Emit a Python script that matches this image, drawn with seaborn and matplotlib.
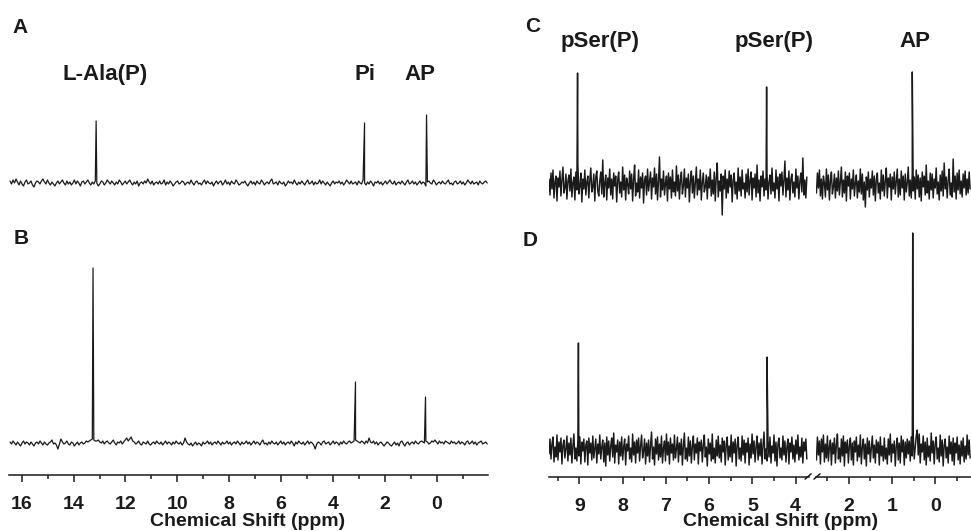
import numpy as np
import pandas as pd
import matplotlib
matplotlib.use("Agg")
import matplotlib.pyplot as plt
from matplotlib.ticker import MultipleLocator, FormatStrFormatter
import matplotlib.transforms as mtransforms
import seaborn as sns

# ---------------------------------------------------------------------------
# 31P spectra: baseline readings (intensity units, baseline = 0) and peaks
# ---------------------------------------------------------------------------
# Panel A, 16.45 -> -1.95 ppm
a_noise = [
    2, -1, 3, 0, 4, 1, -2, 2, -1, -3, 1, 3, -1, 0, 2, -2, -4, 0, 2, 1,
    -1, 2, 4, 1, -1, 3, 0, -2, 1, -1, -3, 0, 2, -1, 1, 3, 0, -2, 2, -1,
    1, -2, 0, 3, -1, 2, 0, -3, 1, 2, -1, 1, 3, 0, -2, 1, -1, 2, 0, -3,
    -1, 2, 1, -2, 0, 3, 1, -1, 2, 0, -2, 1, -1, 3, 1, -2, 0, 2, -1, 1,
    3, 0, -2, 1, -1, 2, -3, 0, 1, -1, 2, 0, 4, 1, -1, 2, -2, 0, 1, -1,
    2, -1, 0, 3, -2, 1, -1, 2, 0, -3, -1, 1, 2, -1, 0, 2, 1, -2, 0, 1,
    -1, 3, 0, -2, 1, 2, -1, 0, -2, 1, 3, -1, 2, 0, -1, 1, -3, 0, 2, -1,
    1, 2, -2, 0, 3, -1, 1, -2, 2, 0, -1, 3, 1, -2, -1, 1, 0, 2, -1, -3,
    0, 2, -1, 1, -2, 2, 0, -1, 3, 1, -2, 0, 1, -1, 2, 4, -1, 0, 1, -2,
    2, 0, -1, 1, -3, -1, 2, 0, 1, -1, 3, 0, -2, 1, -1, 2, 0, -2, 1, 3,
    -1, 0, 2, -2, 1, -1, 0, 3, -1, 2, 0, -2, 1, -1, -3, 0, 2, -1, 1, 0,
    2, -1, 1, -2, 0, 3, 1, -1, 2, -1, 0, 1, -2, 2, 0, -1, 3, 0, -2, 1,
    -1, 2, 0, -3, 1, 0, 2, -1, 1, -2, 0, 2, -1, 1, 3, 0, -1, 2, -2, 0,
    1, -1, 2, 0, -2, 1, 3, -1, 0, 2, -1, 1, -2, 0, 2, -1, 1, 0, -3, 1,
    2, 0, -1, 3, 1, -2, 0, 1, -1, 2, 0, -1, 1, 3, -1, 0, -2, 1, 2, -1,
    0, 2, -1, 1, -2, 0, 3, 1, -1, 2, -1, 0, 1, -2, 2, 0, -1, 1, 2, 0,
]
# Panel B, 16.45 -> -1.95 ppm
b_noise = [
    1, -1, 2, 0, -2, 1, -1, -3, 0, 2, -1, 1, 0, -2, 1, -1, -3, 0, 1, -1,
    2, 0, -2, 1, -1, -2, 0, 1, 3, -1, 0, -2, -6, -1, 4, 1, -1, 0, 2, -1,
    -2, 1, 0, -3, -1, 1, -2, 0, 1, -1, 0, 2, 1, 2, 3, 4, 3, 2, 2, 3,
    1, 0, 2, -1, 1, 2, 0, -1, 1, 3, 0, -2, 1, 0, 2, -1, 1, 3, 5, 2,
    4, 6, 2, 1, -1, 0, 2, -1, -2, 1, 0, -1, 2, -1, -2, 0, 1, -1, 2, 0,
    -1, 1, -2, 0, 2, -1, 1, 0, -2, 1, -1, 2, 0, -1, 1, -2, 0, 5, 1, -1,
    -2, 0, -3, -1, 1, -2, 0, -1, -3, 1, -1, 0, 2, -1, 1, -2, 0, 1, -1, 2,
    0, -2, 1, -1, 0, 2, -1, 1, -2, 0, 1, -1, 2, 0, -2, 1, -1, 0, 2, -1,
    1, -2, 0, 2, -1, 1, 0, -2, 1, 3, -1, 0, -2, 1, -1, 2, 0, -1, 1, -2,
    0, 2, -1, 1, -2, 0, 1, -1, 2, 0, -3, 1, -1, 2, 0, -1, 1, -2, 0, 2,
    -1, 1, 0, -2, -6, -1, 1, 0, -2, 1, 2, -1, 0, 1, -2, 0, 2, -1, 1, 0,
    -2, 1, -1, 2, 0, -1, 1, 2, 0, 1, 2, 3, 2, 1, 0, 2, 1, -1, 2, 0,
    5, 1, 0, 2, -1, 1, -2, 0, 1, -1, -3, -1, 1, 0, -2, -3, -1, 1, -2, 0,
    -3, 1, 2, -1, -3, 0, 1, -2, 0, 1, -1, 2, 0, -1, 1, 2, 1, 0, 2, 1,
    -1, 0, 2, 1, 3, 1, -1, 2, 0, 1, -1, 2, 1, 0, -1, 2, 0, 1, -1, 0,
    2, -1, 1, 0, -2, 1, 2, -1, 0, 2, -1, 1, -2, 0, 1, 2, -1, 0, 1, -1,
]
# Panel C, 9.70 -> 3.74 ppm
c_noise_low = [
    6, -10, 12, -4, 15, -13, 3, 9, -16, 7, -2, 14, -11, 5, 18, -8, -3, 11, -14, 4,
    10, -6, 16, -12, 2, 8, -15, 13, -5, 21, -9, -1, 12, -17, 6, -4, 15, -10, 3, 9,
    -13, 5, 17, -7, -2, 11, -16, 8, 14, -6, -11, 4, 13, -9, 25, -12, 2, 10, -15, 7,
    -3, 16, -10, 6, -14, 12, -1, 9, -17, 5, 13, -8, 3, -12, 18, -5, 10, -15, 7, 1,
    -9, 14, -4, 11, -16, 6, 20, -11, 2, -7, 15, -13, 8, -3, 12, -18, 5, 9, -10, 16,
    -6, 3, 13, -14, 7, -2, 17, -9, 11, -15, 4, 28, -12, 6, -5, 14, -10, 2, 9, -16,
    12, -4, 8, -13, 15, -7, 3, -11, 19, -6, 10, -14, 5, 13, -9, -1, 16, -12, 7, -3,
    11, -17, 4, 14, -8, 9, -13, 2, 18, -10, 6, -5, 15, -15, 3, 12, -7, -2, 10, -14,
    8, -3, 16, -11, 5, -9, 13, -16, 7, 22, -12, 4, -6, 11, -30, 9, -4, 15, -13, 6,
    -8, 14, -2, 10, -17, 5, 12, -9, 3, -14, 17, -6, 8, -11, 15, -4, 2, -13, 11, -7,
    16, -10, 4, 13, -15, 7, -3, 11, -12, 20, -8, 5, -16, 9, -2, 14, -11, 6, -5, 12,
    -14, 3, 10, -9, 17, -6, 2, -13, 15, -4, 8, -16, 11, -1, 13, -10, 5, 24, -12, 7,
    -5, 14, -15, 6, 11, -8, 3, -12, 16, -3, 9, -14, 4, 12, -7, 27, -10, 5, -13, 8,
]
# Panel C, 2.75 -> -0.81 ppm
c_noise_high = [
    -8, 12, -3, 15, -11, 6, -14, 9, 2, -12, 16, -5, 10, -15, 4, 13, -9, -2, 11, -13,
    7, -6, 14, -10, 3, 18, -12, 5, -8, 13, -16, 9, -1, 12, -14, 6, -4, 15, -11, 2,
    10, -13, 4, -7, 16, -9, 11, -15, 3, -22, 8, -5, 13, -12, 6, -3, 14, -10, 9, -16,
    5, 12, -8, 2, -14, 15, -6, 10, -11, 4, 17, -13, 7, -2, 11, -15, 8, -4, 13, -9,
    3, 16, -12, 6, -10, 14, -3, 9, -15, 11, -7, 2, 18, -11, 5, -13, 12, -6, 8, -14,
    15, -4, 10, -12, 7, -16, 13, -2, 9, -10, 20, -8, 4, -14, 12, -5, 11, -13, 6, -3,
    17, -9, 3, -15, 10, -6, 14, -11, 22, -4, 8, -13, 5, 16, -10, 2, -12, 26, -7, 9,
    -14, 12, -5, 15, -9, 4, -12, 11, -3, 14, -10, 6, -8, 13, -4,
]
# Panel D, 9.70 -> 3.74 ppm
d_noise_low = [
    -4, 11, -9, 6, 13, -12, 3, -7, 15, -10, 8, -2, 12, -14, 5, 10, -8, 1, 14, -11,
    7, -5, 12, -13, 4, 16, -9, 2, -11, 10, -6, 13, -14, 8, -1, 11, -12, 5, 9, -15,
    12, -3, 7, -10, 14, -8, 2, 11, -13, 6, -4, 15, -9, 3, 10, -12, 7, -16, 13, -5,
    9, -11, 4, 12, -7, 17, -13, 5, -2, 10, -14, 8, -6, 13, -10, 3, 11, -15, 6, -1,
    14, -9, 2, -12, 16, -5, 8, -13, 10, -3, 12, -11, 4, 15, -8, -1, 11, -14, 7, -6,
    10, -12, 5, 18, -9, 3, -15, 11, -4, 13, -10, 6, -7, 14, -13, 2, 9, -11, 16, -5,
    8, -14, 12, -3, 6, -10, 15, -8, 1, 13, -12, 7, -5, 11, -15, 4, 17, -9, 2, -11,
    13, -6, 9, -13, 4, 14, -10, 6, -3, 12, -14, 8, -1, 10, -12, 5, 15, -7, 3, -16,
    11, -4, 7, -11, 16, -9, 2, -13, 10, -6, 14, -8, 5, -12, 12, -2, 9, -15, 6, 13,
    -10, 4, -7, 15, -12, 8, -3, 11, -16, 5, 13, -9, 2, -11, 14, -5, 10, -13, 7, -2,
    12, -15, 6, -8, 16, -4, 9, -12, 3, 14, -10, 7, -6, 11, -14, 5, 18, -9, 1, -11,
    10, -7, 13, -13, 4, -3, 15, -11, 8, -16, 6, 12, -8, 2, -10, 14, -5, 9, -12, 3,
    11, -14, 7, -2, 13, -9, 5, -12, 10, -4, 15, -10, 3, -7, 12, -13, 8, -1, 11, -9,
]
# Panel D, 2.75 -> -0.81 ppm
d_noise_high = [
    -10, 13, -5, 9, -14, 11, -2, 15, -12, 6, -8, 14, -11, 3, 10, -15, 7, -4, 12, -13,
    5, 16, -9, 2, -12, 11, -6, 14, -16, 8, -3, 10, -13, 4, 12, -10, 7, -15, 9, -2,
    13, -11, 5, -7, 15, -14, 3, 11, -9, 6, -16, 12, -4, 9, -12, 2, 14, -8, 5, -13,
    10, -3, 8, -15, 13, -6, 4, -11, 12, -9, 2, -14, 11, -5, 16, -12, 6, -3, 9, -16,
    4, 12, -10, 7, -13, 14, -2, 10, -15, 8, -8, 11, -4, 9, -11, 13, -6, 15, -9, 3,
    14, 20, -5, 16, -13, 6, -2, 14, -10, 8, -15, 12, -7, 4, -11, 17, -3, 9, -14, 6,
    13, -9, 2, -12, 15, -6, 10, -16, 5, 11, -8, 3, -13, 14, -4, 8, -11, 12, -15, 7,
    -3, 13, -10, 5, -14, 9, -6, 12, -12, 4, -9, 15, -5, 10, -8,
]

a_peak_ppm = [13.13, 2.78, 0.39]
a_peak_int = [62, 60, 68]
b_peak_ppm = [13.25, 3.13, 0.43]
b_peak_int = [175, 61, 46]
c_peak_ppm = [9.04, 4.67, 0.53]
c_peak_int = [112, 98, 113]
d_peak_ppm = [9.02, 4.66, 0.52]
d_peak_int = [107, 93, 217]

a_labels = ["L-Ala(P)", "Pi", "AP"]
a_label_ppm = [12.8, 2.78, 0.65]
c_labels = ["pSer(P)", "pSer(P)", "AP"]
c_label_ppm = [8.52, 4.50, 0.47]

full_window = (16.45, -1.95)
low_window = (9.70, 3.74)
high_window = (2.75, -0.81)


def spectrum(window, noise, peak_ppm, peak_int):
    """Baseline readings on an even ppm grid with the peak maxima merged in."""
    ppm = np.linspace(window[0], window[1], len(noise))
    lo, hi = min(window), max(window)
    keep = [(p, h) for p, h in zip(peak_ppm, peak_int) if lo <= p <= hi]
    df = pd.DataFrame({
        "ppm": np.concatenate([ppm, [p for p, _ in keep]]),
        "intensity": np.concatenate([np.asarray(noise, float), [h for _, h in keep]]),
    })
    return df.sort_values("ppm").reset_index(drop=True)


# ---------------------------------------------------------------------------
# Figure
# ---------------------------------------------------------------------------
sns.set_theme(style="white")
plt.rcParams["font.family"] = ["Liberation Sans", "DejaVu Sans"]
plt.rcParams["font.weight"] = "bold"
plt.rcParams["axes.labelweight"] = "bold"

W, H = 971, 531
fig = plt.figure(figsize=(W / 100, H / 100), dpi=100)
fig.patch.set_facecolor("white")

INK = "#1a1a1a"


def box(x0, y0, x1, y1):
    """Axes rectangle given in pixel corners (origin top-left)."""
    return [x0 / W, 1 - y1 / H, (x1 - x0) / W, (y1 - y0) / H]


def bare(ax):
    ax.set_facecolor("none")
    for s in ax.spines.values():
        s.set_visible(False)
    ax.set_yticks([])
    ax.set_ylabel("")
    ax.set_xlabel("")
    ax.tick_params(axis="x", which="both", bottom=False, labelbottom=False)


def scale_axis(ax, major, minor):
    ax.spines["bottom"].set_visible(True)
    ax.spines["bottom"].set_color(INK)
    ax.spines["bottom"].set_linewidth(1.1)
    ax.xaxis.set_major_locator(MultipleLocator(major))
    ax.xaxis.set_minor_locator(MultipleLocator(minor))
    ax.xaxis.set_major_formatter(FormatStrFormatter("%d"))
    ax.tick_params(axis="x", which="both", bottom=True, labelbottom=True,
                   direction="out", color=INK, width=1.1)
    ax.tick_params(axis="x", which="major", length=5, pad=10,
                   labelsize=14, labelcolor=INK)
    ax.tick_params(axis="x", which="minor", length=3)


def draw(ax, df, lw):
    sns.lineplot(data=df, x="ppm", y="intensity", ax=ax, color=INK,
                 linewidth=lw, estimator=None, sort=True)


# Left column: full spectral window
axA = fig.add_axes(box(9, 100, 488, 200))
axB = fig.add_axes(box(9, 250, 488, 475))
draw(axA, spectrum(full_window, a_noise, a_peak_ppm, a_peak_int), 0.9)
draw(axB, spectrum(full_window, b_noise, b_peak_ppm, b_peak_int), 0.9)
for ax in (axA, axB):
    bare(ax)
    ax.set_xlim(16.49, -1.98)
axA.set_ylim(-17, 83)
axB.set_ylim(-32, 193)
scale_axis(axB, 2, 1)

# Right column: broken axis around the empty 3.7-2.75 ppm region
axC1 = fig.add_axes(box(549, 55, 809, 225))
axC2 = fig.add_axes(box(816, 55, 971, 225))
axD1 = fig.add_axes(box(549, 215, 809, 477))
axD2 = fig.add_axes(box(816, 215, 971, 477))

draw(axC1, spectrum(low_window, c_noise_low, c_peak_ppm, c_peak_int), 1.05)
draw(axC2, spectrum(high_window, c_noise_high, c_peak_ppm, c_peak_int), 1.05)
draw(axD1, spectrum(low_window, d_noise_low, d_peak_ppm, d_peak_int), 1.05)
draw(axD2, spectrum(high_window, d_noise_high, d_peak_ppm, d_peak_int), 1.05)

for ax in (axC1, axC2, axD1, axD2):
    bare(ax)
for ax in (axC1, axD1):
    ax.set_xlim(9.70, 3.69)
for ax in (axC2, axD2):
    ax.set_xlim(2.76, -0.83)
axC1.set_ylim(-40, 130)
axC2.set_ylim(-40, 130)
axD1.set_ylim(-27, 235)
axD2.set_ylim(-27, 235)
scale_axis(axD1, 1, 0.5)
scale_axis(axD2, 1, 0.5)

# break marks on the shared ppm scale
brk = dict(color=INK, linewidth=1.1, clip_on=False)
axD1.plot([0.985, 1.008], [-0.008, 0.012], transform=axD1.transAxes, **brk)
axD2.plot([-0.013, 0.026], [-0.008, 0.012], transform=axD2.transAxes, **brk)

# axis titles under both scales
for cx in (248, 781):
    fig.text(cx / W, 1 - 526.5 / H, "Chemical Shift (ppm)", fontsize=14,
             color=INK, ha="center", va="baseline")

# peak assignments
tA = mtransforms.blended_transform_factory(axA.transData, fig.transFigure)
for lab, p in zip(a_labels, a_label_ppm):
    axA.text(p, 1 - 80 / H, lab, transform=tA, ha="center", va="baseline",
             fontsize=16, color=INK, clip_on=False)
for lab, p in zip(c_labels, c_label_ppm):
    ax = axC1 if p > 3.2 else axC2
    t = mtransforms.blended_transform_factory(ax.transData, fig.transFigure)
    ax.text(p, 1 - 47 / H, lab, transform=t, ha="center", va="baseline",
            fontsize=16, color=INK, clip_on=False)

# panel letters
for letter, (x, y) in zip("ABCD", [(12, 33), (14, 244), (525, 32), (523, 246)]):
    fig.text(x / W, 1 - y / H, letter, fontsize=15, color=INK,
             ha="left", va="baseline")

fig.savefig("out.png", dpi=100, facecolor="white")
